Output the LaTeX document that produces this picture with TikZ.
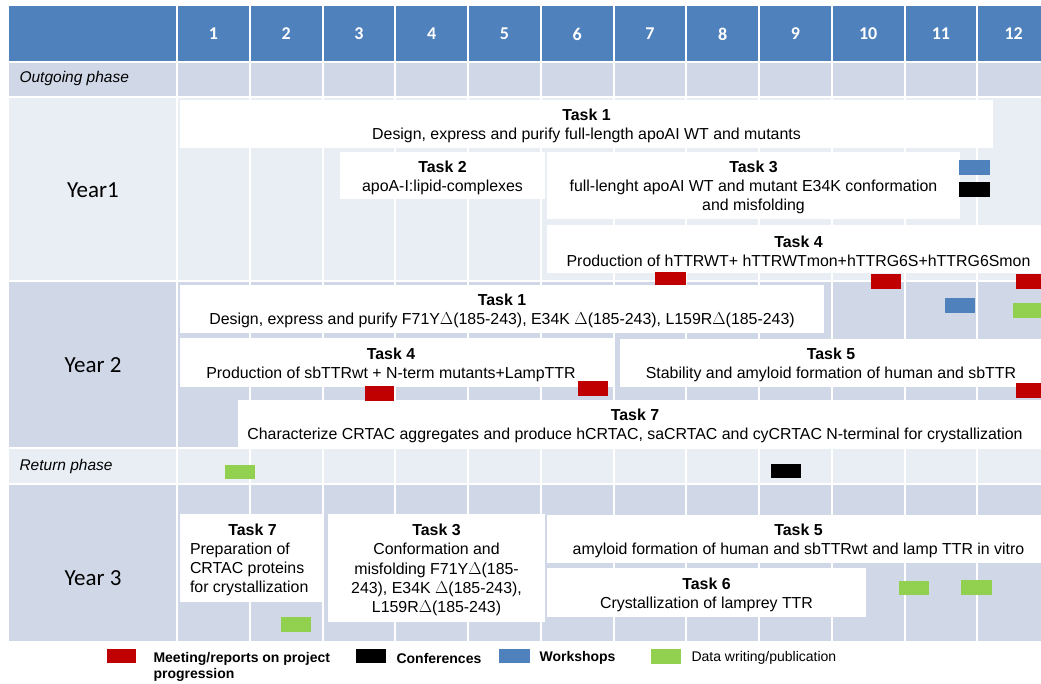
\documentclass[tikz,border=0pt]{standalone}
\usepackage{fontspec}
\setmainfont{Liberation Sans}
\newfontfamily\calibrifont{Carlito}
\usetikzlibrary{fit}
\definecolor{hdr}{HTML}{4F81BD}
\definecolor{rowdark}{HTML}{D0D8E8}
\definecolor{rowlight}{HTML}{E9EDF4}
\definecolor{mred}{HTML}{C00000}
\definecolor{mblue}{HTML}{4F81BD}
\definecolor{mgreen}{HTML}{92D050}
\tikzset{
  taskbox/.style={fill=white, draw=none, inner sep=0pt},
  tasktext/.style={inner sep=0pt, align=center, yshift=-2pt, font=\fontsize{15.9}{19.2}\selectfont},
  mk/.style={draw=none, inner sep=0pt},
  hnum/.style={text=white, font=\calibrifont\bfseries\fontsize{18}{20}\selectfont},
  yearlbl/.style={font=\calibrifont\fontsize{23}{26}\selectfont},
  phaselbl/.style={anchor=west, font=\itshape\fontsize{15.5}{19}\selectfont},
  legbold/.style={anchor=west, align=left, font=\bfseries\fontsize{14}{16}\selectfont},
  legreg/.style={anchor=west, font=\fontsize{14}{16}\selectfont},
  gridline/.style={white, line width=2pt}
}
\begin{document}
\begin{tikzpicture}[x=1pt,y=-1pt]
\useasboundingbox (0,0) rectangle (1041,684);
\clip (0,0) rectangle (1041,684);
\fill[white] (0,0) rectangle (1041,684);
% row bands
\fill[hdr] (9,6) rectangle (1060,61);
\fill[rowdark] (9,63) rectangle (1060,96);
\fill[rowlight] (9,98) rectangle (1060,280);
\fill[rowdark] (9,282) rectangle (1060,447);
\fill[rowlight] (9,449) rectangle (1060,483);
\fill[rowdark] (9,485) rectangle (1060,641);
% column lines
\foreach \k in {0,...,12} \draw[gridline] ({177+\k*72.75},6) -- ({177+\k*72.75},641);
% header numbers
\foreach \i in {1,...,12} \node[hnum] (h\i) at ({177+(\i-0.5)*72.75},34) {\i};
% row labels
\node[phaselbl] (outg) at (16,78) {Outgoing phase};
\node[yearlbl] (y1) at (93,190) {Year1};
\node[yearlbl] (y2) at (93,365) {Year 2};
\node[phaselbl] (ret) at (16,466) {Return phase};
\node[yearlbl] (y3) at (93,578) {Year 3};
% Year 1 tasks
\node[taskbox, fit={(180,100) (993,148)}] (a1) {};
\node[tasktext] (a1t) at (a1.center) {\textbf{Task 1}\\Design, express and purify full-length  apoAI WT and mutants};
\node[taskbox, fit={(340,152) (545,199)}] (a2) {};
\node[tasktext] (a2t) at (a2.center) {\textbf{Task 2}\\apoA-I:lipid-complexes};
\node[taskbox, fit={(547,152) (960,219)}] (a3) {};
\node[tasktext] (a3t) at (a3.center) {\textbf{Task 3}\\full-lenght  apoAI WT and mutant E34K conformation\\and misfolding};
\node[taskbox, fit={(547,225) (1050,273)}] (a4) {};
\node[tasktext] (a4t) at (a4.center) {\textbf{Task 4}\\Production of  hTTRWT+ hTTRWTmon+hTTRG6S+hTTRG6Smon};
\node[mk, fill=mblue, fit={(959,160) (990,175)}] (a4w) {};
\node[mk, fill=black, fit={(959,182) (990,197)}] (a4c) {};
\node[mk, fill=mred, fit={(655,272) (686,287)}] (a1m) {};
\node[mk, fill=mred, fit={(871,274) (901,289)}] (a2m) {};
\node[mk, fill=mred, fit={(1016,274) (1048,289)}] (a3m) {};
% Year 2 tasks
\node[taskbox, fit={(180,285) (824,333)}] (b1) {};
\node[tasktext] (b1t) at (b1.center) {\textbf{Task 1}\\Design, express and purify F71Y$\Delta$(185-243), E34K $\Delta$(185-243), L159R$\Delta$(185-243)};
\node[taskbox, fit={(180,338) (614,387)}] (b4) {};
\node[tasktext] (b4t) at ([xshift=-6pt]b4.center) {\textbf{Task 4}\\Production of sbTTRwt + N-term mutants+LampTTR};
\node[taskbox, fit={(620,339) (1050,387)}] (b5) {};
\node[tasktext] (b5t) at ([xshift=-4pt]b5.center) {\textbf{Task 5}\\Stability and amyloid formation of human  and sbTTR};
\node[taskbox, fit={(238,400) (1050,447)}] (b7) {};
\node[tasktext] (b7t) at ([xshift=-9pt]b7.center) {\textbf{Task 7}\\Characterize CRTAC aggregates and produce hCRTAC, saCRTAC and cyCRTAC N-terminal for crystallization};
\node[mk, fill=mblue, fit={(945,298) (975,313)}] (b1w) {};
\node[mk, fill=mgreen, fit={(1013,303) (1048,318)}] (b1p) {};
\node[mk, fill=mred, fit={(365,386) (394,401)}] (b1m) {};
\node[mk, fill=mred, fit={(578,381) (608,396)}] (b2m) {};
\node[mk, fill=mred, fit={(1016,383) (1048,398)}] (b3m) {};
% Return phase
\node[mk, fill=mgreen, fit={(225,465) (255,479)}] (rp) {};
\node[mk, fill=black, fit={(771,464) (801,478)}] (rc) {};
% Year 3 tasks
\node[taskbox, fit={(180,514) (323,602)}] (c7) {};
\node[tasktext, align=left] (c7t) at ([xshift=1pt]c7.center) {\makebox[125pt][c]{\textbf{Task 7}}\\Preparation of\\CRTAC proteins\\for crystallization};
\node[taskbox, fit={(328,514) (545,622)}] (c3) {};
\node[tasktext] (c3t) at (c3.center) {\textbf{Task 3}\\Conformation and\\misfolding F71Y$\Delta$(185-\\243), E34K $\Delta$(185-243),\\L159R$\Delta$(185-243)};
\node[taskbox, fit={(547,515) (1050,563)}] (c5) {};
\node[tasktext] (c5t) at (c5.center) {\textbf{Task 5}\\amyloid formation of human  and sbTTRwt and lamp TTR in vitro};
\node[taskbox, fit={(547,568) (866,617)}] (c6) {};
\node[tasktext] (c6t) at (c6.center) {\textbf{Task 6}\\Crystallization  of lamprey TTR};
\node[mk, fill=mgreen, fit={(899,581) (929,595)}] (c1p) {};
\node[mk, fill=mgreen, fit={(961,580) (992,595)}] (c2p) {};
\node[mk, fill=mgreen, fit={(281,617) (311,632)}] (c3p) {};
% legend
\node[mk, fill=mred, fit={(107,649) (136,663)}] (lr) {};
\node[legbold, anchor=north west] (lrt) at (150,649) {Meeting/reports on project\\progression};
\node[mk, fill=black, fit={(356,649) (386,663)}] (lk) {};
\node[legbold] (lkt) at (393,658) {Conferences};
\node[mk, fill=mblue, fit={(499,649) (530,663)}] (lb) {};
\node[legbold] (lbt) at (536,658) {Workshops};
\node[mk, fill=mgreen, fit={(651,649) (681,664)}] (lg) {};
\node[legreg] (lgt) at (688,658) {Data writing/publication};
\end{tikzpicture}
\end{document}
